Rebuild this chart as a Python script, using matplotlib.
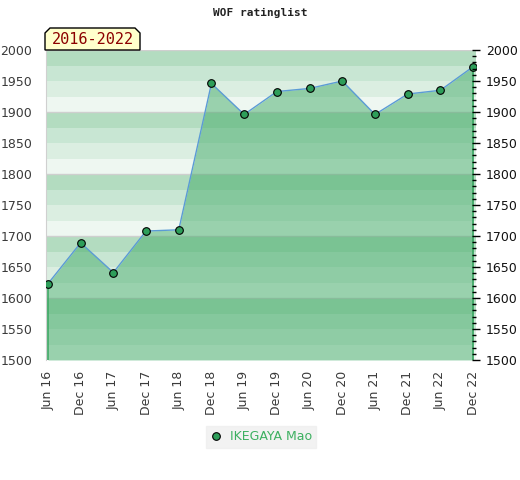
import numpy as np
import matplotlib
matplotlib.use("Agg")
import matplotlib.pyplot as plt
from matplotlib.patches import Polygon
from matplotlib.lines import Line2D
from matplotlib.ticker import MultipleLocator

# data ----------------------------------------------------------------------------------------- data
periods = ["Jun 16", "Dec 16", "Jun 17", "Dec 17", "Jun 18", "Dec 18", "Jun 19",
           "Dec 19", "Jun 20", "Dec 20", "Jun 21", "Dec 21", "Jun 22", "Dec 22"]
ratings = [1623, 1689, 1641, 1708, 1710, 1946, 1896,
           1933, 1938, 1950, 1896, 1929, 1935, 1973]
player = "IKEGAYA Mao"
span_label = "2016-2022"

# colours / bands
band_colors = ["#b3dcc0", "#c8e6d3", "#dbeee1", "#eef7f1"]   # top -> bottom of each 100
fill_color = "#3aa762"
line_color = "#5b9bd5"
marker_color = "#2e9e5a"
y_min, y_max = 1500, 2000

W, H = 520, 480
fig = plt.figure(figsize=(W / 100, H / 100), dpi=100)
ax = fig.add_axes([46 / W, 1 - 360 / H, 430 / W, 310 / H])

x = np.arange(len(ratings))

# background bands
for top in range(y_max, y_min, -100):
    for i, c in enumerate(band_colors):
        ax.axhspan(top - 25 * (i + 1), top - 25 * i, color=c, lw=0, zorder=0)
    ax.axhline(top, color="#cfcfcf", lw=1, zorder=1)

# area + line
ax.fill_between(x, ratings, y_min, color=fill_color, alpha=0.47, lw=0, zorder=2)
ax.vlines([x[0], x[-1]], y_min, [ratings[0], ratings[-1]], color=fill_color, lw=1.2, zorder=3)
ax.plot(x, ratings, color=line_color, lw=1, zorder=4)
ax.plot(x, ratings, ls="none", marker="o", ms=5.5, mfc=marker_color, mec="black", mew=0.8, zorder=5)

ax.set_xlim(-0.06, 13.09)
ax.set_ylim(y_min, y_max)
ax.set_xticks(x)
ax.set_xticklabels(periods, rotation=90, fontsize=9, color="#3a3a3a")
ax.set_yticks(range(y_min, y_max + 1, 50))
ax.tick_params(axis="y", length=0, labelsize=9, labelcolor="#3a3a3a", pad=10)
ax.tick_params(axis="x", length=0, pad=8)
for s in ["top", "right", "bottom"]:
    ax.spines[s].set_visible(False)
ax.spines["left"].set_color("#d0d0d0")

# right axis
ax2 = ax.twinx()
ax2.set_ylim(y_min, y_max)
ax2.yaxis.set_major_locator(MultipleLocator(50))
ax2.yaxis.set_minor_locator(MultipleLocator(10))
ax2.tick_params(axis="y", which="major", direction="inout", length=6, width=1,
                labelsize=9, labelcolor="#111111", pad=4)
ax2.tick_params(axis="y", which="minor", direction="in", length=3, width=1)
for s in ["top", "left", "bottom", "right"]:
    ax2.spines[s].set_visible(False)

# title
fig.text(0.5, 1 - 13 / H, "WOF ratinglist", ha="center", va="center",
         family="DejaVu Sans Mono", fontsize=8, fontweight="bold", color="#222222")

# period box with cut top corners
bx0, bx1, by0, by1, cut = 45, 140, 50, 28, 5
pts = [(bx0, by0), (bx0, by1 + cut), (bx0 + cut, by1), (bx1 - cut, by1),
       (bx1, by1 + cut), (bx1, by0)]
fig.patches.append(Polygon([(px / W, 1 - py / H) for px, py in pts], closed=True,
                           transform=fig.transFigure, facecolor="#ffffcc",
                           edgecolor="black", lw=1, zorder=10))
fig.text((bx0 + bx1) / 2 / W, 1 - 40 / H, span_label, ha="center", va="center",
         family="DejaVu Sans Mono", fontsize=11, color="#8b0000", zorder=11)

# legend
handle = Line2D([], [], ls="none", marker="o", ms=5.5, mfc=marker_color, mec="black", mew=0.8)
leg = fig.legend([handle], [player], loc="center", bbox_to_anchor=(261 / W, 1 - 437 / H),
                 frameon=True, fontsize=9, handlelength=1, handletextpad=0.6,
                 borderpad=0.35, fancybox=False)
leg.get_frame().set_facecolor("#efefef")
leg.get_frame().set_edgecolor("#efefef")
for t in leg.get_texts():
    t.set_color("#3cb060")

fig.savefig("out.png", dpi=100)
